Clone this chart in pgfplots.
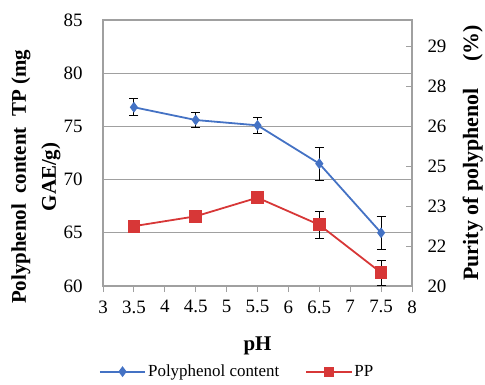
\documentclass[border=0pt]{standalone}
\usepackage{fontspec}
\setmainfont{Liberation Serif}
\usepackage{pgfplots}
\pgfplotsset{compat=1.18}
\definecolor{bl}{RGB}{68,114,196}
\definecolor{rd}{RGB}{215,55,55}
\definecolor{gr}{RGB}{160,160,160}
\begin{document}
\begin{tikzpicture}
\useasboundingbox (-103bp,-99bp) rectangle (382bp,286bp);
\pgfplotsset{every axis/.append style={
  scale only axis, width=309bp, height=266bp, xmin=3, xmax=8,
  at={(0,0)}, anchor=south west,
  /pgf/number format/assume math mode=true,
  tick label style={font=\fontsize{19}{21}\selectfont},
  label style={font=\bfseries\fontsize{21}{30}\selectfont},
  legend image code/.code={
    \draw[mark repeat=2,mark phase=2]
      plot coordinates {(0cm,0cm) (0.8cm,0cm) (1.6cm,0cm)};},
}}
\begin{axis}[
  ymin=60, ymax=85, ytick={60,65,...,85},
  xtick={3,3.5,...,8},
  xticklabels={3,3.5,4,4.5,5,5.5,6,6.5,7,7.5,8},
  xtick pos=bottom, ytick pos=left,
  xtick align=outside,
  ytick style={draw=none},
  xtick style={gr, line width=1pt},
  major tick length=6bp,
  xticklabel style={yshift=-5bp},
  yticklabel style={xshift=-17bp},
  ymajorgrids, grid style={gr, line width=1.3pt},
  axis line style={gr, line width=1.2pt},
  xlabel={pH},
  xlabel style={at={(axis description cs:0.5,-0.225)}, anchor=center},
  ylabel={Polyphenol\ \ content\ \ TP (mg\\GAE/g)},
  ylabel style={align=center, at={(axis description cs:-0.217,0.41)}, anchor=center},
  legend style={at={(axis description cs:0.434,-0.322)}, anchor=center, draw=none, fill=none,
    legend columns=2, font=\fontsize{17}{19}\selectfont,
    /tikz/every even column/.append style={column sep=24pt},
    /tikz/every odd column/.append style={column sep=0pt},
    inner sep=0pt},
  legend cell align=left,
]
\addplot[bl, line width=1.8pt, mark=diamond*, mark size=4pt,
  mark options={fill=bl, draw=bl},
  error bars/.cd, y dir=both, y explicit,
  error bar style={black, line width=1pt},
  error mark options={black, line width=1pt, mark size=4.5pt, rotate=90}]
coordinates {
 (3.5,76.8) +- (0,0.8)
 (4.5,75.6) +- (0,0.7)
 (5.5,75.1) +- (0,0.75)
 (6.5,71.5) +- (0,1.55)
 (7.5,65.0) +- (0,1.55)
};
\addlegendentry{Polyphenol content}
\addlegendimage{rd, line width=1.8pt, mark=square*, mark size=4pt, mark options={fill=rd, draw=rd}}
\addlegendentry{PP}
\end{axis}
\begin{axis}[
  ymin=20, ymax=30,
  axis x line=none,
  axis y line*=right,
  ytick={20,21.5,23,24.5,26,27.5,29},
  yticklabels={20,22,23,25,26,28,29},
  ytick align=inside,
  ytick style={gr, line width=1pt},
  major tick length=6bp,
  yticklabel style={xshift=12bp},
  axis line style={gr, line width=1.2pt},
  ylabel={Purity of polyphenol\hspace{1.2em}(\%)},
  ylabel style={at={(axis description cs:1.197,0.5)}, anchor=center, font=\bfseries\fontsize{22}{26}\selectfont},
]
\addplot[rd, line width=1.8pt, mark=square*, mark size=5.5pt,
  mark options={fill=rd, draw=rd},
  error bars/.cd, y dir=both, y explicit,
  error bar style={black, line width=1pt},
  error mark options={black, line width=1pt, mark size=4.5pt, rotate=90}]
coordinates {
 (3.5,22.25) +- (0,0)
 (4.5,22.62) +- (0,0)
 (5.5,23.32) +- (0,0)
 (6.5,22.3) +- (0,0.5)
 (7.5,20.5) +- (0,0.47)
};
\end{axis}
\end{tikzpicture}
\end{document}
